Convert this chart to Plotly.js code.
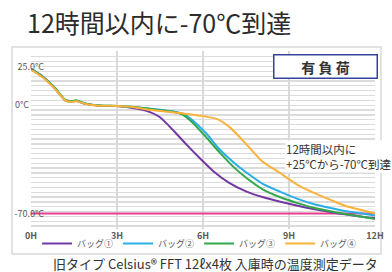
<!DOCTYPE html>
<html><head><meta charset="utf-8">
<script src="https://cdn.plot.ly/plotly-3.0.1.min.js"></script>
<style>html,body{margin:0;padding:0;background:#fff;}#chart{width:392px;height:272px;}</style>
</head><body><div id="chart"></div>
<script>
const seriesNames = ["バッグ①", "バッグ②", "バッグ③", "バッグ④"];
const seriesColors = ["#7238a4", "#2aaee6", "#33a84a", "#fbb13a"];

const hoursPurple = [0, 0.4, 0.8, 1.2, 1.4, 1.6, 1.9, 2.4, 3.0, 3.5, 4.0, 4.5, 5.0, 5.45, 5.9, 6.35, 6.9, 7.5, 8.1, 8.7, 9.3, 9.85, 10.45, 11.0, 11.6, 12];
const tempPurple  = [23.4, 18.6, 11.5, 3.0, 2.4, 2.7, 0.9, -0.3, -0.6, -1.6, -3.5, -7.8, -17, -26, -34.5, -42.5, -50, -55.7, -59.5, -62.4, -65, -67.1, -69.1, -70.7, -72.2, -72.9];

const hoursBlue = [0, 0.4, 0.8, 1.2, 1.4, 1.6, 1.9, 2.4, 3.0, 3.5, 4.0, 4.5, 5.0, 5.3, 5.65, 6.1, 6.6, 7.1, 7.55, 8.1, 8.7, 9.3, 9.85, 10.45, 11.0, 11.6, 12];
const tempBlue  = [23.4, 18.5, 11.7, 3.2, 2.6, 2.9, 1.0, -0.2, -0.5, -1.0, -2.0, -3.0, -4.2, -5.5, -10, -18, -29, -37.5, -44, -51, -56, -60.5, -63.8, -66.4, -68.5, -70.2, -71.3];

const hoursGreen = [0, 0.4, 0.8, 1.2, 1.4, 1.6, 1.9, 2.4, 3.0, 3.5, 4.0, 4.5, 5.0, 5.3, 5.65, 6.1, 6.6, 7.1, 7.55, 8.1, 8.7, 9.3, 9.85, 10.45, 11.0, 11.6, 12];
const tempGreen  = [23.4, 18.4, 11.9, 3.3, 2.7, 3.1, 1.0, -0.2, -0.5, -1.0, -2.0, -3.2, -4.4, -6.3, -11.5, -20.5, -31, -40.5, -47.5, -54.5, -59.5, -63.3, -66.3, -68.6, -70.5, -72.2, -73.5];

const hoursOrange = [0, 0.4, 0.8, 1.2, 1.4, 1.6, 1.9, 2.4, 3.0, 3.5, 4.0, 4.5, 5.0, 5.5, 6.0, 6.5, 6.95, 7.5, 8.05, 8.7, 9.3, 9.85, 10.45, 11.0, 11.6, 12];
const tempOrange  = [23.0, 18.0, 11.3, 3.0, 2.2, 2.5, 0.8, -0.3, -0.5, -1.0, -2.6, -3.8, -4.8, -5.8, -7.0, -9.0, -14.5, -25, -36, -44, -51.5, -56.5, -61.2, -65.3, -68, -70.0];

const targetHours = [0, 12];
const targetTemp = [-70, -70];

const xTickVals = [0, 3, 6, 9, 12];
const xTickText = ["0H", "3H", "6H", "9H", "12H"];
const yTickVals = [25, 0, -70];
const yTickText = ["25.0°C", "0°C\u2007\u2007\u2007", "-70.0°C"];

const FONT = "'Noto Sans CJK JP', 'Noto Sans', sans-serif";
const Y_RANGE = [-80, 35];

const xs = [hoursPurple, hoursBlue, hoursGreen, hoursOrange];
const ys = [tempPurple, tempBlue, tempGreen, tempOrange];

const traces = [{
  x: targetHours, y: targetTemp, mode: 'lines', showlegend: false,
  line: {color: '#e63d8c', width: 2}, hoverinfo: 'skip'
}];
for (let i = 0; i < 4; i++) {
  traces.push({
    x: xs[i], y: ys[i], name: seriesNames[i], mode: 'lines',
    line: {color: seriesColors[i], width: 2, shape: 'spline', smoothing: 0.6}
  });
}

const layout = {
  width: 392, height: 272,
  margin: {l: 31, r: 17, t: 51, b: 43},
  paper_bgcolor: '#fff', plot_bgcolor: '#fff',
  font: {family: FONT, color: '#595959', size: 9},
  title: {text: '12時間以内に-70℃到達', font: {family: FONT, size: 25, color: '#2b2b2b'},
          x: 27/392, xanchor: 'left', xref: 'container', y: 1 - 24/272, yanchor: 'middle', yref: 'container'},
  showlegend: true,
  legend: {orientation: 'h', x: 0.49, xanchor: 'center', y: 0, yanchor: 'top',
           font: {size: 9, color: '#595959'}, bgcolor: 'rgba(0,0,0,0)', traceorder: 'normal'},
  xaxis: {range: [0, 12], tickvals: xTickVals, ticktext: xTickText, showgrid: true,
          gridcolor: '#d9d9d9', gridwidth: 2, zeroline: false, showline: false, ticks: '',
          ticklabelstandoff: 0,
          tickfont: {size: 9, color: '#595959', family: FONT, weight: 'bold'}, fixedrange: true},
  yaxis: {range: Y_RANGE, tickvals: yTickVals, ticktext: yTickText, showgrid: true,
          gridcolor: '#dcdcdc', gridwidth: 1.3, zeroline: false, showline: false, ticks: '',
          ticklabelposition: 'outside', ticklabelstandoff: -14,
          minor: {tick0: 0, dtick: 3.125, showgrid: true, gridcolor: '#dcdcdc', gridwidth: 1.3, ticks: ''},
          tickfont: {size: 9, color: '#595959', family: FONT}, fixedrange: true},
  shapes: [{type: 'rect', xref: 'paper', yref: 'paper', x0: -0.0552, x1: 1.0174, y0: -0.1404, y1: 1.0225,
            line: {color: '#d9d9d9', width: 1.5}, layer: 'below'}],
  annotations: [
    {xref: 'paper', yref: 'paper', x: (325 - 31)/344, y: (229 - 66.5)/178, xanchor: 'center', yanchor: 'middle',
     text: '有 負 荷', showarrow: false,
     width: 100, height: 20, bordercolor: '#34449a', borderwidth: 1.5, bgcolor: '#fff',
     font: {family: FONT, size: 14, color: '#333', weight: 'bold'}},
    {xref: 'paper', yref: 'paper', x: (285 - 31)/344, y: (229 - 156.5)/178, xanchor: 'left', yanchor: 'middle',
     align: 'left', text: '12時間以内に<br>+25℃から-70℃到達', showarrow: false, bgcolor: '#fff', borderpad: 0,
     font: {family: FONT, size: 11.5, color: '#333'}},
    {xref: 'paper', yref: 'paper', x: (216 - 31)/344, y: (229 - 263)/178, xanchor: 'center', yanchor: 'middle',
     text: '旧タイプ Celsius® FFT 12ℓx4枚 入庫時の温度測定データ', showarrow: false,
     font: {family: FONT, size: 13, color: '#333'}}
  ]
};

Plotly.newPlot('chart', traces, layout, {displayModeBar: false, staticPlot: true});
</script>
</body></html>
